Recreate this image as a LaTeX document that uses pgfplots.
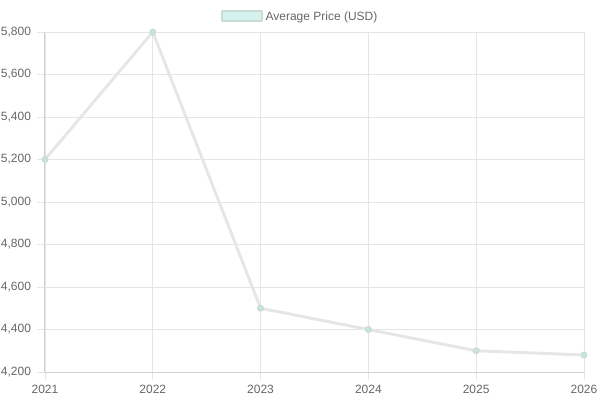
\documentclass[border=0pt]{standalone}
\usepackage{fontspec}
\setmainfont{Liberation Sans}
\usepackage{pgfplots}
\pgfplotsset{compat=1.18}

\definecolor{txt}{HTML}{666666}
\definecolor{gridc}{HTML}{E5E5E5}
\definecolor{axc}{HTML}{D0D0D0}
\definecolor{linec}{HTML}{E6E6E6}
\definecolor{markf}{HTML}{C6E4DE}
\definecolor{markd}{HTML}{CBD8D5}
\definecolor{legf}{HTML}{D6F1EE}
\definecolor{legd}{HTML}{C6DCD8}

\begin{document}
\begin{tikzpicture}[x=0.75pt,y=0.75pt]
\begin{axis}[
  name=ax,
  scale only axis,
  width=404.25pt, height=255pt,
  xmin=2021, xmax=2026,
  ymin=4200, ymax=5800,
  xtick={2021,...,2026},
  ytick={4200,4400,...,5800},
  xticklabel={\pgfmathprintnumber[1000 sep={}]{\tick}},
  /pgf/number format/1000 sep={,},
  /pgf/number format/assume math mode=true,
  tick label style={font=\fontsize{9}{10}\selectfont, text=txt},
  grid=major,
  grid style={gridc, line width=0.6pt},
  axis line style={axc, line width=0.75pt},
  axis x line*=bottom,
  axis y line*=left,
  tick style={gridc, line width=0.6pt},
  major tick length=6pt,
  tick align=outside,
  xtick pos=bottom, ytick pos=left,
  yticklabel style={xshift=-1pt},
  clip=false,
  legend style={at={(0.5,1)}, anchor=south, xshift=-10.5pt, yshift=3.25pt, draw=none, fill=none,
    font=\fontsize{9}{10}\selectfont, text=txt},
  legend cell align=left,
  legend image code/.code={
    \draw[legd, line width=1.5pt, fill=legf] (0pt,-3.5pt) rectangle (30pt,4pt);
  },
]
\addplot[linec, line width=2.2pt, line join=round,
  mark=*, mark size=2.3pt, mark options={fill=markf, draw=markd, line width=0.6pt}]
  coordinates {
  (2021,5200) (2022,5800) (2023,4500) (2024,4400) (2025,4300) (2026,4280)
};
\addlegendentry{Average Price (USD)}
\end{axis}
\pgfresetboundingbox
\path[use as bounding box] ([xshift=-33.75pt,yshift=-21pt]ax.south west) rectangle ([xshift=12pt,yshift=24pt]ax.north east);
\end{tikzpicture}
\end{document}
